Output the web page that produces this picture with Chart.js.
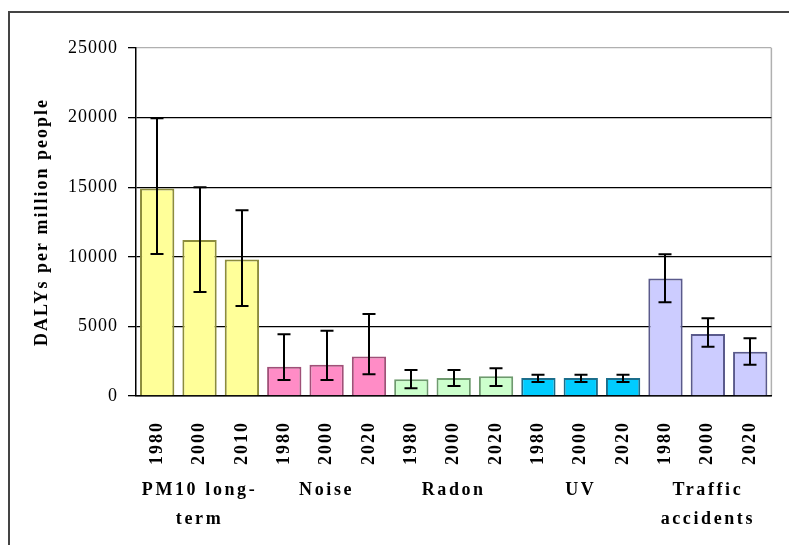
<!DOCTYPE html>
<html>
<head>
<meta charset="utf-8">
<script src="https://cdn.jsdelivr.net/npm/chart.js@4/dist/chart.umd.min.js"></script>
<style>
  html, body { margin: 0; padding: 0; background: #ffffff; }
  #wrap { width: 789px; height: 545px; }
</style>
</head>
<body>
<div id="wrap"><canvas id="chart" width="789" height="545"></canvas></div>
<script>
// Burden of disease by environmental factor and year
const groupLabels = [['PM10 long-', 'term'], 'Noise', 'Radon', 'UV', ['Traffic', 'accidents']];
const yearLabels = ['1980', '2000', '2010', '1980', '2000', '2020', '1980', '2000', '2020',
                    '1980', '2000', '2020', '1980', '2000', '2020'];
const dalys     = [14900, 11200, 9800, 2100, 2250, 2830, 1200, 1290, 1410, 1290, 1290, 1290, 8450, 4450, 3180];
const errorLow  = [10200, 7470, 6470, 1150, 1150, 1560, 550, 720, 720, 1000, 1000, 1000, 6730, 3540, 2250];
const errorHigh = [19950, 15000, 13350, 4430, 4690, 5890, 1870, 1870, 1990, 1530, 1530, 1530, 10180, 5580, 4140];
const yTickValues = [0, 5000, 10000, 15000, 20000, 25000];
const yTickLabels = ['0', '5000', '10000', '15000', '20000', '25000'];

// One fill / outline per factor (three years each)
const groupFill   = ['#FFFF99', '#FF8CC6', '#CCFFCC', '#00CCFF', '#CCCCFF'];
const groupStroke = ['#8C8C3C', '#A05078', '#6E9A6E', '#1A6E8C', '#5A5A8C'];
const barsPerGroup = 3;

const serif = "'Liberation Serif', 'Times New Roman', serif";

// Letter spacing used for each axis' labels and title
const textSpacing = {
  x:  { labels: '2px' },
  x2: { labels: '2.6px' },
  y:  { labels: '1px', title: '2px' }
};

const spacing = {
  id: 'spacing',
  beforeDraw(chart) {
    Object.keys(textSpacing).forEach(id => {
      const scale = chart.scales[id];
      if (!scale || scale._spaced) return;
      const cfg = textSpacing[id];
      const drawLabels = scale.drawLabels.bind(scale);
      const drawTitle = scale.drawTitle.bind(scale);
      scale.drawLabels = function (area) {
        const ctx = this.ctx; const prev = ctx.letterSpacing;
        ctx.letterSpacing = cfg.labels || '0px';
        drawLabels(area);
        ctx.letterSpacing = prev;
      };
      scale.drawTitle = function () {
        const ctx = this.ctx; const prev = ctx.letterSpacing;
        ctx.letterSpacing = cfg.title || '0px';
        drawTitle();
        ctx.letterSpacing = prev;
      };
      scale._spaced = true;
    });
  }
};

// Page frame and the right edge of the plot area
const frame = {
  id: 'frame',
  beforeDraw(chart) {
    const { ctx, chartArea: a } = chart;
    ctx.save();
    ctx.strokeStyle = '#444';
    ctx.lineWidth = 2;
    ctx.beginPath();
    ctx.moveTo(9, 545);
    ctx.lineTo(9, 12);
    ctx.lineTo(789, 12);
    ctx.stroke();
    ctx.strokeStyle = '#b0b0b0';
    ctx.lineWidth = 1.5;
    ctx.beginPath();
    ctx.moveTo(a.right, a.top);
    ctx.lineTo(a.right, a.bottom);
    ctx.stroke();
    ctx.restore();
  }
};

// Vertical range whiskers with caps, from errorLow to errorHigh
const whiskers = {
  id: 'whiskers',
  afterDatasetsDraw(chart) {
    const { ctx } = chart;
    const y = chart.scales.y;
    const meta = chart.getDatasetMeta(0);
    const cap = 6.5;
    ctx.save();
    ctx.strokeStyle = '#000';
    ctx.lineWidth = 2;
    meta.data.forEach((bar, i) => {
      const x = Math.round(bar.x);
      const yLo = y.getPixelForValue(errorLow[i]);
      const yHi = y.getPixelForValue(errorHigh[i]);
      ctx.beginPath();
      ctx.moveTo(x, yLo); ctx.lineTo(x, yHi);
      ctx.moveTo(x - cap, yLo); ctx.lineTo(x + cap, yLo);
      ctx.moveTo(x - cap, yHi); ctx.lineTo(x + cap, yHi);
      ctx.stroke();
    });
    ctx.restore();
  }
};

new Chart(document.getElementById('chart'), {
  type: 'bar',
  data: {
    labels: yearLabels,
    datasets: [{
      data: dalys,
      backgroundColor: dalys.map((_, i) => groupFill[Math.floor(i / barsPerGroup)]),
      borderColor: dalys.map((_, i) => groupStroke[Math.floor(i / barsPerGroup)]),
      borderWidth: 2,
      barPercentage: 0.81,
      categoryPercentage: 1.0
    }]
  },
  options: {
    responsive: false,
    devicePixelRatio: 1,
    animation: false,
    layout: { padding: { top: 48, right: 6, left: 0, bottom: 0 } },
    plugins: { legend: { display: false }, tooltip: { enabled: false } },
    scales: {
      x: {
        position: 'bottom',
        weight: 0,
        grid: { display: false },
        border: { display: true, color: '#000', width: 1.5 },
        ticks: {
          autoSkip: false, minRotation: 90, maxRotation: 90, padding: 17,
          color: '#000', font: { family: serif, size: 18, weight: 'bold' }
        },
        afterFit(s) { s.height = 75; }
      },
      x2: {
        type: 'category',
        position: 'bottom',
        weight: 1,
        labels: groupLabels,
        offset: true,
        grid: { display: false, drawTicks: false },
        border: { display: false },
        ticks: {
          autoSkip: false, maxRotation: 0, minRotation: 0, padding: 4,
          color: '#000', font: { family: serif, size: 18, weight: 'bold', lineHeight: 1.65 }
        },
        afterFit(s) { s.height = 74; }
      },
      y: {
        min: 0, max: 25000,
        afterBuildTicks(s) { s.ticks = yTickValues.map(v => ({ value: v })); },
        grid: {
          color: ctx => (ctx.tick && ctx.tick.value === 25000) ? '#b0b0b0' : '#000',
          tickColor: '#000', tickLength: 8, lineWidth: 1.3
        },
        border: { display: true, color: '#000', width: 1.5 },
        ticks: {
          padding: 10, color: '#000', font: { family: serif, size: 18 },
          callback: (v, i) => yTickLabels[i]
        },
        title: {
          display: true, text: 'DALYs per million people', color: '#000',
          font: { family: serif, size: 18, weight: 'bold' }, padding: { top: 32, bottom: 0 }
        },
        afterFit(s) { s.width = 136; }
      }
    }
  },
  plugins: [spacing, frame, whiskers]
});
</script>
</body>
</html>
